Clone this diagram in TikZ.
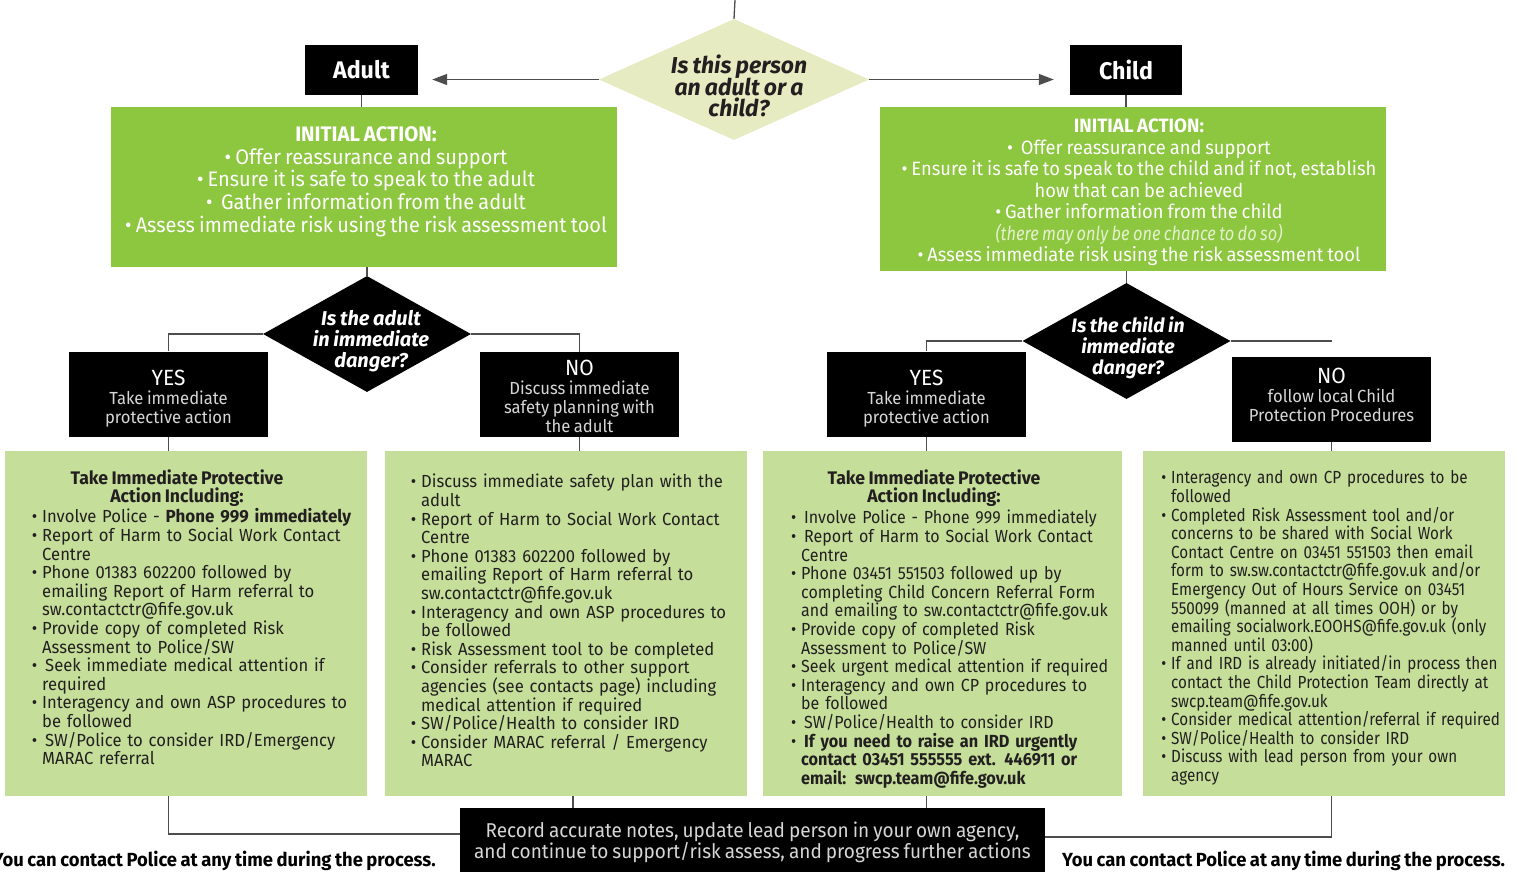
\documentclass[tikz,border=0pt]{standalone}
\usepackage{fontspec}
\setmainfont{Fira Sans}[
  UprightFeatures={FakeStretch=0.95},
  BoldFeatures={FakeStretch=0.97},
  ItalicFeatures={FakeStretch=0.85},
  BoldItalicFeatures={FakeStretch=1.0},
  WordSpace=0.8]
\newfontfamily\childlistfont{Fira Sans}[
  UprightFeatures={FakeStretch=0.915},
  BoldFeatures={FakeStretch=0.93},
  WordSpace=0.8]
\newfontfamily\agencylistfont{Fira Sans}[
  UprightFeatures={FakeStretch=0.87},
  BoldFeatures={FakeStretch=0.89},
  WordSpace=0.75]
\usetikzlibrary{shapes.geometric,arrows.meta,positioning,calc}

\definecolor{darkgreen}{HTML}{8DC63F}
\definecolor{palegreen}{HTML}{C5DF9A}
\definecolor{paleyellow}{HTML}{E6EBC2}
\definecolor{softgreen}{HTML}{E4F1CF}
\definecolor{inkgrey}{HTML}{231F20}
\definecolor{boxgrey}{HTML}{D6D6D6}
\definecolor{linegrey}{HTML}{4D4D4D}

\newenvironment{bul}{\begin{list}{\textbullet}{%
  \setlength{\leftmargin}{13pt}\setlength{\labelwidth}{8pt}%
  \setlength{\labelsep}{5pt}\setlength{\itemsep}{0pt}%
  \setlength{\parsep}{0pt}\setlength{\topsep}{0pt}\setlength{\partopsep}{0pt}}}%
  {\end{list}}

\tikzset{
  tag/.style={fill=black, text=white, inner sep=0pt, minimum height=50pt,
    font=\fontsize{24}{26}\selectfont\bfseries},
  answer/.style={fill=black, text=boxgrey, inner sep=0pt, align=center,
    minimum width=199pt, minimum height=85pt, font=\fontsize{17.5}{18.8}\selectfont},
  initbox/.style={fill=darkgreen, minimum width=506pt, inner sep=0pt},
  inittext/.style={text=white, align=center, inner sep=0pt,
    font=\fontsize{21}{22.7}\selectfont},
  question/.style={diamond, fill=black, inner sep=0pt,
    minimum width=208pt, minimum height=116pt},
  qtext/.style={text=white, align=center, inner sep=0pt,
    font=\fontsize{20}{21}\selectfont\bfseries\itshape},
  notebox/.style={fill=palegreen, minimum height=345pt, inner sep=0pt},
  notehead/.style={text=inkgrey, align=center, inner sep=0pt,
    font=\fontsize{18.2}{18.6}\selectfont\bfseries},
  notetext/.style={anchor=north west, text=inkgrey, align=left, inner sep=0pt,
    text width=380pt, font=\fontsize{17.5}{18.6}\selectfont},
  link/.style={draw=linegrey, line width=1.3pt},
  hint/.style={text=black, inner sep=0pt, font=\fontsize{19}{20}\selectfont\bfseries}
}

\begin{document}
\lineskiplimit=-20pt
\begin{tikzpicture}[x=1pt, y=-1pt]
    \useasboundingbox (0,0) rectangle (1525,871);

    \coordinate (entry) at (735,0);
    \node [diamond, fill=paleyellow, inner sep=0pt, minimum width=270pt, minimum height=121pt] (person) at (734,79.5) {};
    \node [qtext, text=inkgrey, font=\fontsize{23}{21.5}\selectfont\bfseries\itshape] (persontext) at (739,86) {Is this person\\an adult or a\\child?};
    \node [tag, minimum width=113pt] (adult) at (361.5,70) {Adult};
    \node [tag, minimum width=112pt] (child) at (1126,70) {Child};

    \draw [link] (entry) -- (person.north);
    \draw [link, -{Triangle[length=15pt,width=11pt]}] (person.west) -- ([xshift=14pt]adult.east |- person.west);
    \draw [link, -{Triangle[length=15pt,width=11pt]}] (person.east) -- ([xshift=-16pt]child.west |- person.east);

    \node [initbox, minimum height=160pt] (ainit) at (364,187) {};
    \node [inittext] (ainittext) at (366,181.5) {\textbf{INITIAL ACTION:}\\
        \textbullet\ Offer reassurance and support\\
        \textbullet\ Ensure it is safe to speak to the adult\\
        \textbullet\ \ Gather information from the adult\\
        \textbullet\ Assess immediate risk using the risk assessment tool};
    \node [initbox, minimum height=164pt] (cinit) at (1133,189) {};
    \node [inittext, font=\fontsize{19.3}{21.5}\selectfont] (cinittext) at (1139,192.5) {\textbf{INITIAL ACTION:}\\
        \textbullet\ \ Offer reassurance and support\\
        \textbullet\ Ensure it is safe to speak to the child and if not, establish\\
        how that can be achieved\\
        \textbullet\ Gather information from the child\\
        {\itshape\color{softgreen}(there may only be one chance to do so)}\\
        \textbullet\ Assess immediate risk using the risk assessment tool};

    \draw [link] (adult.south) -- (adult.south |- ainit.north);
    \draw [link] (child.south) -- (child.south |- cinit.north);

    \node [question] (adanger) at (367,334) {};
    \node [qtext] (adangertext) at (371,341) {Is the adult\\in immediate\\danger?};
    \node [question] (cdanger) at (1126.5,341) {};
    \node [qtext, font=\fontsize{19.5}{21}\selectfont\bfseries\itshape] (cdangertext) at (1128,347.5) {Is the child in\\immediate\\danger?};

    \draw [link] (ainit.south -| adanger.north) -- (adanger.north);
    \draw [link] (cinit.south -| cdanger.north) -- (cdanger.north);

    \node [answer] (ayes) at (168.5,394) {{\fontsize{22}{24}\selectfont\color{white}\rule{0pt}{24.5pt}YES}\\Take immediate\\protective action};
    \node [answer] (ano) at (579.5,394.5) {{\fontsize{22}{20}\selectfont\color{white}\rule{0pt}{19pt}NO}\\Discuss immediate\\safety planning with\\the adult};
    \node [answer] (cyes) at (926.5,394) {{\fontsize{22}{24}\selectfont\color{white}\rule{0pt}{24.5pt}YES}\\Take immediate\\protective action};
    \node [answer] (cno) at (1331.5,399.5) {{\fontsize{22}{24}\selectfont\color{white}NO}\\follow local Child\\Protection Procedures\rule[-10pt]{0pt}{1pt}};

    \draw [link] (adanger.west) -| (ayes.north);
    \draw [link] (adanger.east) -| (ano.north);
    \draw [link] (cdanger.west) -| (cyes.north);
    \draw [link] (cdanger.east) -- (cdanger.east -| cno.north);

    \node [notebox, minimum width=362pt] (aleft) at (186,623.5) {};
    \node [notebox, minimum width=362pt] (aright) at (566,623.5) {};
    \node [notebox, minimum width=359pt] (cleft) at (942.5,623.5) {};
    \node [notebox, minimum width=362pt] (cright) at (1324,623.5) {};

    \foreach \note/\ans in {aleft/ayes, aright/ano, cleft/cyes, cright/cno}
    {
        \draw [link] (\ans.south) -- (\ans.south |- \note.north);
    }

    \node [notehead] (ahead) at (177,488) {Take Immediate Protective\\Action Including:};
    \node [notetext] (alist) at (29,504) {\begin{bul}
        \item Involve Police - \textbf{Phone 999 immediately}
        \item Report of Harm to Social Work Contact\newline Centre
        \item Phone 01383 602200 followed by\newline emailing Report of Harm referral to\newline sw.contactctr@fife.gov.uk
        \item Provide copy of completed Risk\newline Assessment to Police/SW
        \item \hspace{3pt}Seek immediate medical attention if\newline required
        \item Interagency and own ASP procedures to\newline be followed
        \item \hspace{3pt}SW/Police to consider IRD/Emergency\newline MARAC referral
    \end{bul}};
    \node [notetext] (arlist) at (408,469) {\begin{bul}
        \item Discuss immediate safety plan with the\newline adult
        \item Report of Harm to Social Work Contact\newline Centre
        \item Phone 01383 602200 followed by\newline emailing Report of Harm referral to\newline sw.contactctr@fife.gov.uk
        \item Interagency and own ASP procedures to\newline be followed
        \item Risk Assessment tool to be completed
        \item Consider referrals to other support\newline agencies (see contacts page) including\newline medical attention if required
        \item SW/Police/Health to consider IRD
        \item Consider MARAC referral / Emergency\newline MARAC
    \end{bul}};
    \node [notehead] (chead) at (934,488) {Take Immediate Protective\\Action Including:};
    \node [notetext, font=\childlistfont\fontsize{17.5}{18.6}\selectfont] (cllist) at (788,505) {\begin{bul}
        \item \hspace{3pt}Involve Police - Phone 999 immediately
        \item \hspace{3pt}Report of Harm to Social Work Contact\newline Centre
        \item Phone 03451 551503 followed up by\newline completing Child Concern Referral Form\newline and emailing to sw.contactctr@fife.gov.uk
        \item Provide copy of completed Risk\newline Assessment to Police/SW
        \item Seek urgent medical attention if required
        \item Interagency and own CP procedures to\newline be followed
        \item \hspace{3pt}SW/Police/Health to consider IRD
        \item \textbf{\hspace{3pt}If you need to raise an IRD urgently\newline contact 03451 555555 ext. 446911 or\newline email: swcp.team@fife.gov.uk}
    \end{bul}};
    \node [notetext, font=\agencylistfont\fontsize{17.5}{18.6}\selectfont] (crlist) at (1158,465) {\begin{bul}
        \item Interagency and own CP procedures to be\newline followed
        \item Completed Risk Assessment tool and/or\newline concerns to be shared with Social Work\newline Contact Centre on 03451 551503 then email\newline form to sw.sw.contactctr@fife.gov.uk and/or\newline Emergency Out of Hours Service on 03451\newline 550099 (manned at all times OOH) or by\newline emailing socialwork.EOOHS@fife.gov.uk (only\newline manned until 03:00)
        \item If and IRD is already initiated/in process then\newline contact the Child Protection Team directly at\newline swcp.team@fife.gov.uk
        \item Consider medical attention/referral if required
        \item SW/Police/Health to consider IRD
        \item Discuss with lead person from your own\newline agency
    \end{bul}};

    \node [fill=black, text=boxgrey, inner sep=0pt, align=center, minimum width=585pt, minimum height=64pt,
        font=\fontsize{20}{21.5}\selectfont] (record) at (752.5,840) {\rule{0pt}{20pt}Record accurate notes, update lead person in your own agency,\\and continue to support/risk assess, and progress further actions};

    \draw [link] (aleft.south -| ayes.south) |- ([yshift=6pt]record.west);
    \draw [link] ([xshift=7pt]aright.south) -- ([xshift=7pt]aright.south |- record.north);
    \draw [link] (cleft.south -| cyes.south) -- (cyes.south |- record.north);
    \draw [link] (cright.south -| cno.south) |- ([yshift=3pt]record.east);

    \node [hint, anchor=east] (apolice) at (436,861) {You can contact Police at any time during the process.};
    \node [hint, anchor=west] (cpolice) at (1062,861) {You can contact Police at any time during the process.};
\end{tikzpicture}
\end{document}
